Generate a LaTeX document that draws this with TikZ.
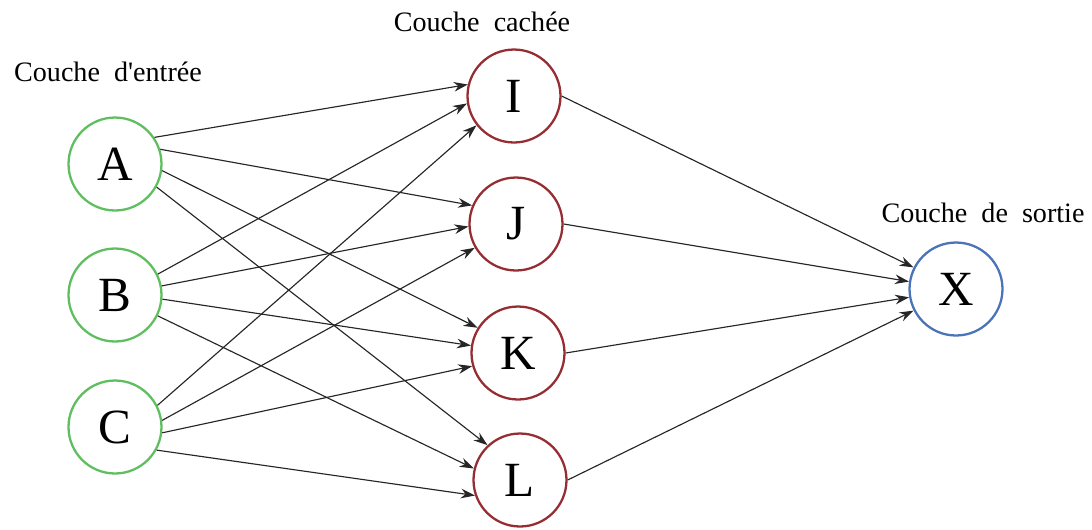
\documentclass[tikz,border=0pt]{standalone}
\usepackage{fontspec}
\setmainfont{Liberation Serif}
\usetikzlibrary{arrows.meta}

\definecolor{inGreen}{RGB}{95,190,95}
\definecolor{hidRed}{RGB}{150,45,50}
\definecolor{outBlue}{RGB}{75,115,185}

\begin{document}
\begin{tikzpicture}[
  x=0.02cm, y=-0.02cm,
  neuron/.style={circle,draw,line width=1.3pt,minimum size=1.86cm,inner sep=0pt,font=\fontsize{28}{30}\selectfont},
  inneuron/.style={neuron,draw=inGreen},
  hidneuron/.style={neuron,draw=hidRed},
  outneuron/.style={neuron,draw=outBlue},
  lbl/.style={font=\fontsize{16}{18}\selectfont},
  link/.style={-{Stealth[length=8pt,width=5.5pt]},line width=0.65pt,black!85}
]
\useasboundingbox (0,0) rectangle (1092,529);

% ---- input layer ----
\node[lbl] (tin) at (108,72) {Couche\ \ d\textquotesingle entrée};
\node[inneuron] (A) at (115,164) {A};
\node[inneuron] (B) at (115,295) {B};
\node[inneuron] (C) at (115,427) {C};

% ---- hidden layer ----
\node[lbl] (thid) at (482,22) {Couche\ \ cachée};
\node[hidneuron] (I) at (514,96) {I};
\node[hidneuron] (J) at (516,224) {J};
\node[hidneuron] (K) at (518,353) {K};
\node[hidneuron] (L) at (520,480) {L};

% ---- output layer ----
\node[lbl] (tout) at (983,213) {Couche\ \ de\ \ sortie};
\node[outneuron] (X) at (956,289) {X};

% Connections input -> hidden (source/target/out angle/in angle)
\foreach \s/\t/\a/\b in {A/I/34/166, A/J/18/157, A/K/-8/148, A/L/-29/133,
                         B/I/26/189, B/J/11/183, B/K/-5/171, B/L/-26/166,
                         C/I/27/218, C/J/8/210, C/K/-7/196, C/L/-29/199}
  \draw[link] (\s.\a) -- (\t.\b);

% Connections hidden -> output
\foreach \t/\b in {I/153, J/171, K/190, L/207}
  \draw[link] (\t.east) -- (X.\b);

\end{tikzpicture}
\end{document}
